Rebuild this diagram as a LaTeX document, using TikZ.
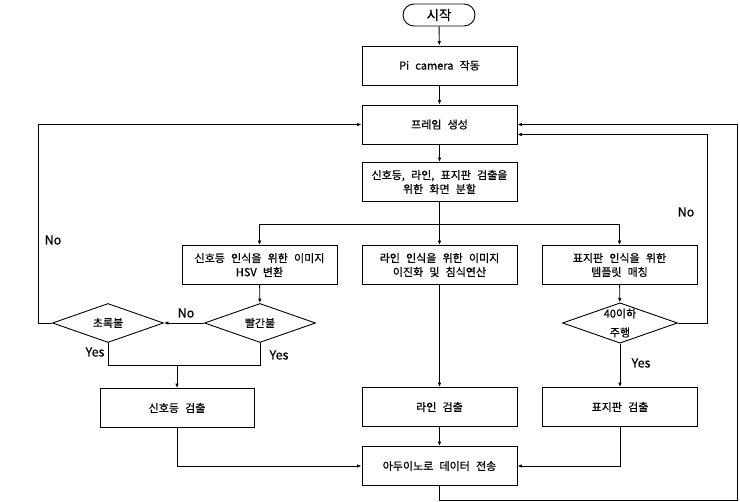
\documentclass[tikz,border=0pt]{standalone}
\usepackage{fontspec}
\setmainfont[WordSpace=2.5,FakeBold=0.6]{Noto Sans CJK KR}
\usetikzlibrary{shapes.geometric,arrows.meta}
\tikzset{
  box/.style={draw,line width=0.9pt,minimum width=155pt,minimum height=39pt,align=center,inner sep=2pt},
  cond/.style={draw,line width=0.9pt,diamond,aspect=2.85,minimum width=111pt,minimum height=39pt,inner sep=0pt,align=center},
  term/.style={draw,line width=0.9pt,rounded corners=11pt,minimum width=72pt,minimum height=22pt,font=\fontsize{13.5}{15}\selectfont},
  arr/.style={line width=0.9pt,-{Latex[length=4.5pt,width=3.6pt]}},
  lbl/.style={font=\fontsize{12.5}{14}\selectfont}
}
\begin{document}
\begin{tikzpicture}[x=1pt,y=-1pt,font=\fontsize{11}{14}\selectfont]
\useasboundingbox (0,0) rectangle (740,502);
% main column
\node[term] (start) at (439,15) {시작};
\node[box] (cam) at (439.5,65.5) {Pi camera 작동};
\node[box] (frame) at (439.5,124.5) {프레임 생성};
\node[box] (split) at (439.5,182) {신호등, 라인, 표지판 검출을\\위한 화면 분할};
\node[box] (hsv) at (259.5,265) {신호등 인식을 위한 이미지\\HSV 변환};
\node[box] (line) at (439.5,265) {라인 인식을 위한 이미지\\이진화 및 침식연산};
\node[box] (sign) at (619.5,265) {표지판 인식을 위한\\템플릿 매칭};
\node[cond] (red) at (260,323) {빨간불};
\node[cond] (green) at (108,323) {초록불};
\node[cond,font=\fontsize{11}{19}\selectfont] (speed) at (620,323) {40이하\\주행};
\node[box,minimum width=154pt] (tldet) at (177,408) {신호등 검출};
\node[box] (linedet) at (439.5,407) {라인 검출};
\node[box] (signdet) at (620,407) {표지판 검출};
\node[box] (ard) at (439.5,466) {아두이노로 데이터 전송};
\coordinate (fork) at (439.5,224);
\coordinate (merge) at (177,365);
\coordinate (back) at (737,500);
% connectors
\draw[arr] (start) -- (cam);
\draw[arr] (cam) -- (frame);
\draw[arr] (frame) -- (split);
\draw[arr] (split) -- (line);
\draw[arr] (fork) -| (hsv);
\draw[arr] (fork) -| (sign);
\draw[arr] (hsv) -- (red);
\draw[arr] (red) -- (green);
\draw[arr] (green.west) -- ++(-14,0) |- (frame.west);
\draw[line width=0.9pt] (green.south) |- (merge);
\draw[line width=0.9pt] (red.south) |- (merge);
\draw[arr] (merge) -- (tldet);
\draw[arr] (line) -- (linedet);
\draw[arr] (sign) -- (speed);
\draw[arr] (speed) -- (signdet);
\draw[arr] (speed.east) -- ++(30,0) |- ([yshift=-10pt]frame.east);
\draw[arr] (tldet) |- (ard);
\draw[arr] (linedet) -- (ard);
\draw[arr] (signdet) |- (ard);
\draw[arr] (ard.south) |- (back) |- (frame.east);
% labels
\node[lbl] (no1) at (53,240) {No};
\node[lbl] (no2) at (186,313) {No};
\node[lbl] (no3) at (686,212) {No};
\node[lbl] (yes1) at (95,352) {Yes};
\node[lbl] (yes2) at (279,355) {Yes};
\node[lbl] (yes3) at (641,363) {Yes};
\end{tikzpicture}
\end{document}
